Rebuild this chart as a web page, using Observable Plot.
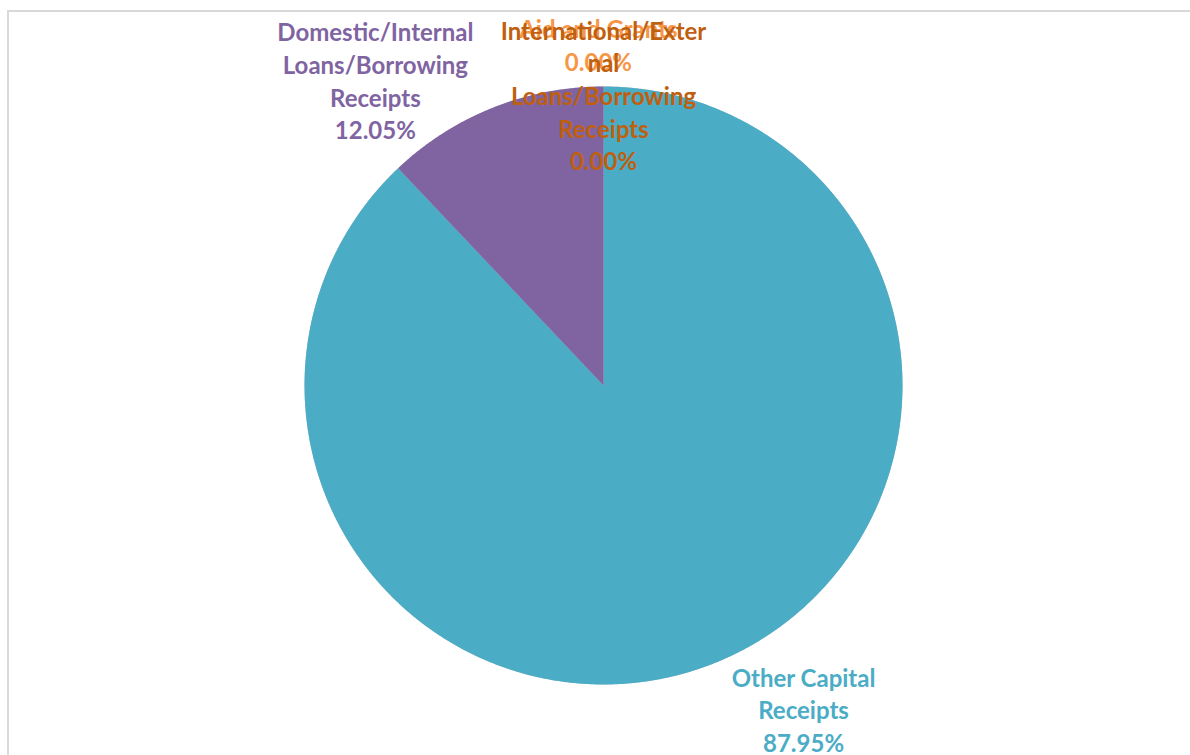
<!DOCTYPE html>
<html>
<head>
<meta charset="utf-8">
<script src="https://cdn.jsdelivr.net/npm/d3@7"></script>
<script src="https://cdn.jsdelivr.net/npm/@observablehq/plot@0.6"></script>
<style>
  html, body { margin: 0; padding: 0; background: #fff; }
  #wrap { position: relative; width: 1190px; height: 755px; overflow: hidden; }
  #border { position: absolute; left: 7px; top: 10px; width: 1200px; height: 800px; border: 2px solid #d9d9d9; box-sizing: border-box; }
  #chart { position: absolute; left: 0; top: 0; }
</style>
</head>
<body>
<div id="wrap"><div id="border"></div><div id="chart"></div></div>
<script>
// Data
const categories = ["Other Capital Receipts", "Domestic/Internal Loans/Borrowing Receipts", "Aid and Grants", "International/External Loans/Borrowing Receipts"];
const shares = [87.95, 12.05, 0.00, 0.00];
const colors = ["#4BACC6", "#8064A2", "#F79646", "#BF5F10"];
const labelTexts = [
  "Other Capital\nReceipts\n87.95%",
  "Domestic/Internal\nLoans/Borrowing\nReceipts\n12.05%",
  "Aid and Grants\n0.00%",
  "International/Exter\nnal\nLoans/Borrowing\nReceipts\n0.00%"
];
// Label placement (in pie-radius units, centre of text block)
const labelX = [0.669, -0.763, -0.017, 0.0];
const labelY = [-1.082, 1.022, 1.141, 0.973];

const slices = d3.pie().sort(null).value(d => d.value).startAngle(0).endAngle(2 * Math.PI)(
  categories.map((c, i) => ({name: c, value: shares[i], color: colors[i]}))
);

// Polygon vertices for each slice
const pts = [];
slices.forEach(s => {
  if (s.endAngle - s.startAngle <= 0) return;
  pts.push({name: s.data.name, x: 0, y: 0});
  const n = Math.max(2, Math.ceil((s.endAngle - s.startAngle) / 0.005));
  for (let k = 0; k <= n; k++) {
    const a = s.startAngle + (s.endAngle - s.startAngle) * k / n;
    pts.push({name: s.data.name, x: Math.sin(a), y: Math.cos(a)});
  }
  pts.push({name: s.data.name, x: 0, y: 0});
});

const labels = categories.map((c, i) => ({name: c, text: labelTexts[i], x: labelX[i], y: labelY[i], color: colors[i]}));
// draw order: Aid first, then others (International on top)
const labelOrder = [2, 0, 1, 3].map(i => labels[i]);

const cx = 603, cy = 385, R = 299;
const chart = Plot.plot({
  width: 1190,
  height: 755,
  margin: 0,
  x: {domain: [-1, 1], range: [cx - R, cx + R], axis: null},
  y: {domain: [-1, 1], range: [cy + R, cy - R], axis: null},
  color: {domain: categories, range: colors},
  style: {background: "transparent", overflow: "visible"},
  marks: [
    Plot.dot([{x: 0, y: 0}], {x: "x", y: "y", r: R, fill: "#000", fillOpacity: 0.25, stroke: "none", ariaLabel: "shadow"}),
    Plot.line(pts, {x: "x", y: "y", z: "name", fill: "name", stroke: "none", curve: "linear"}),
    Plot.text(labelOrder, {
      x: "x", y: "y", text: "text", fill: d => d.color,
      fontSize: 24, fontWeight: "bold", fontFamily: "Lato, 'Open Sans', sans-serif",
      lineHeight: 1.36, textAnchor: "middle"
    })
  ]
});
d3.select(chart).select('g[aria-label="shadow"]').style("filter", "blur(4px)");
document.getElementById("chart").appendChild(chart);
</script>
</body>
</html>
